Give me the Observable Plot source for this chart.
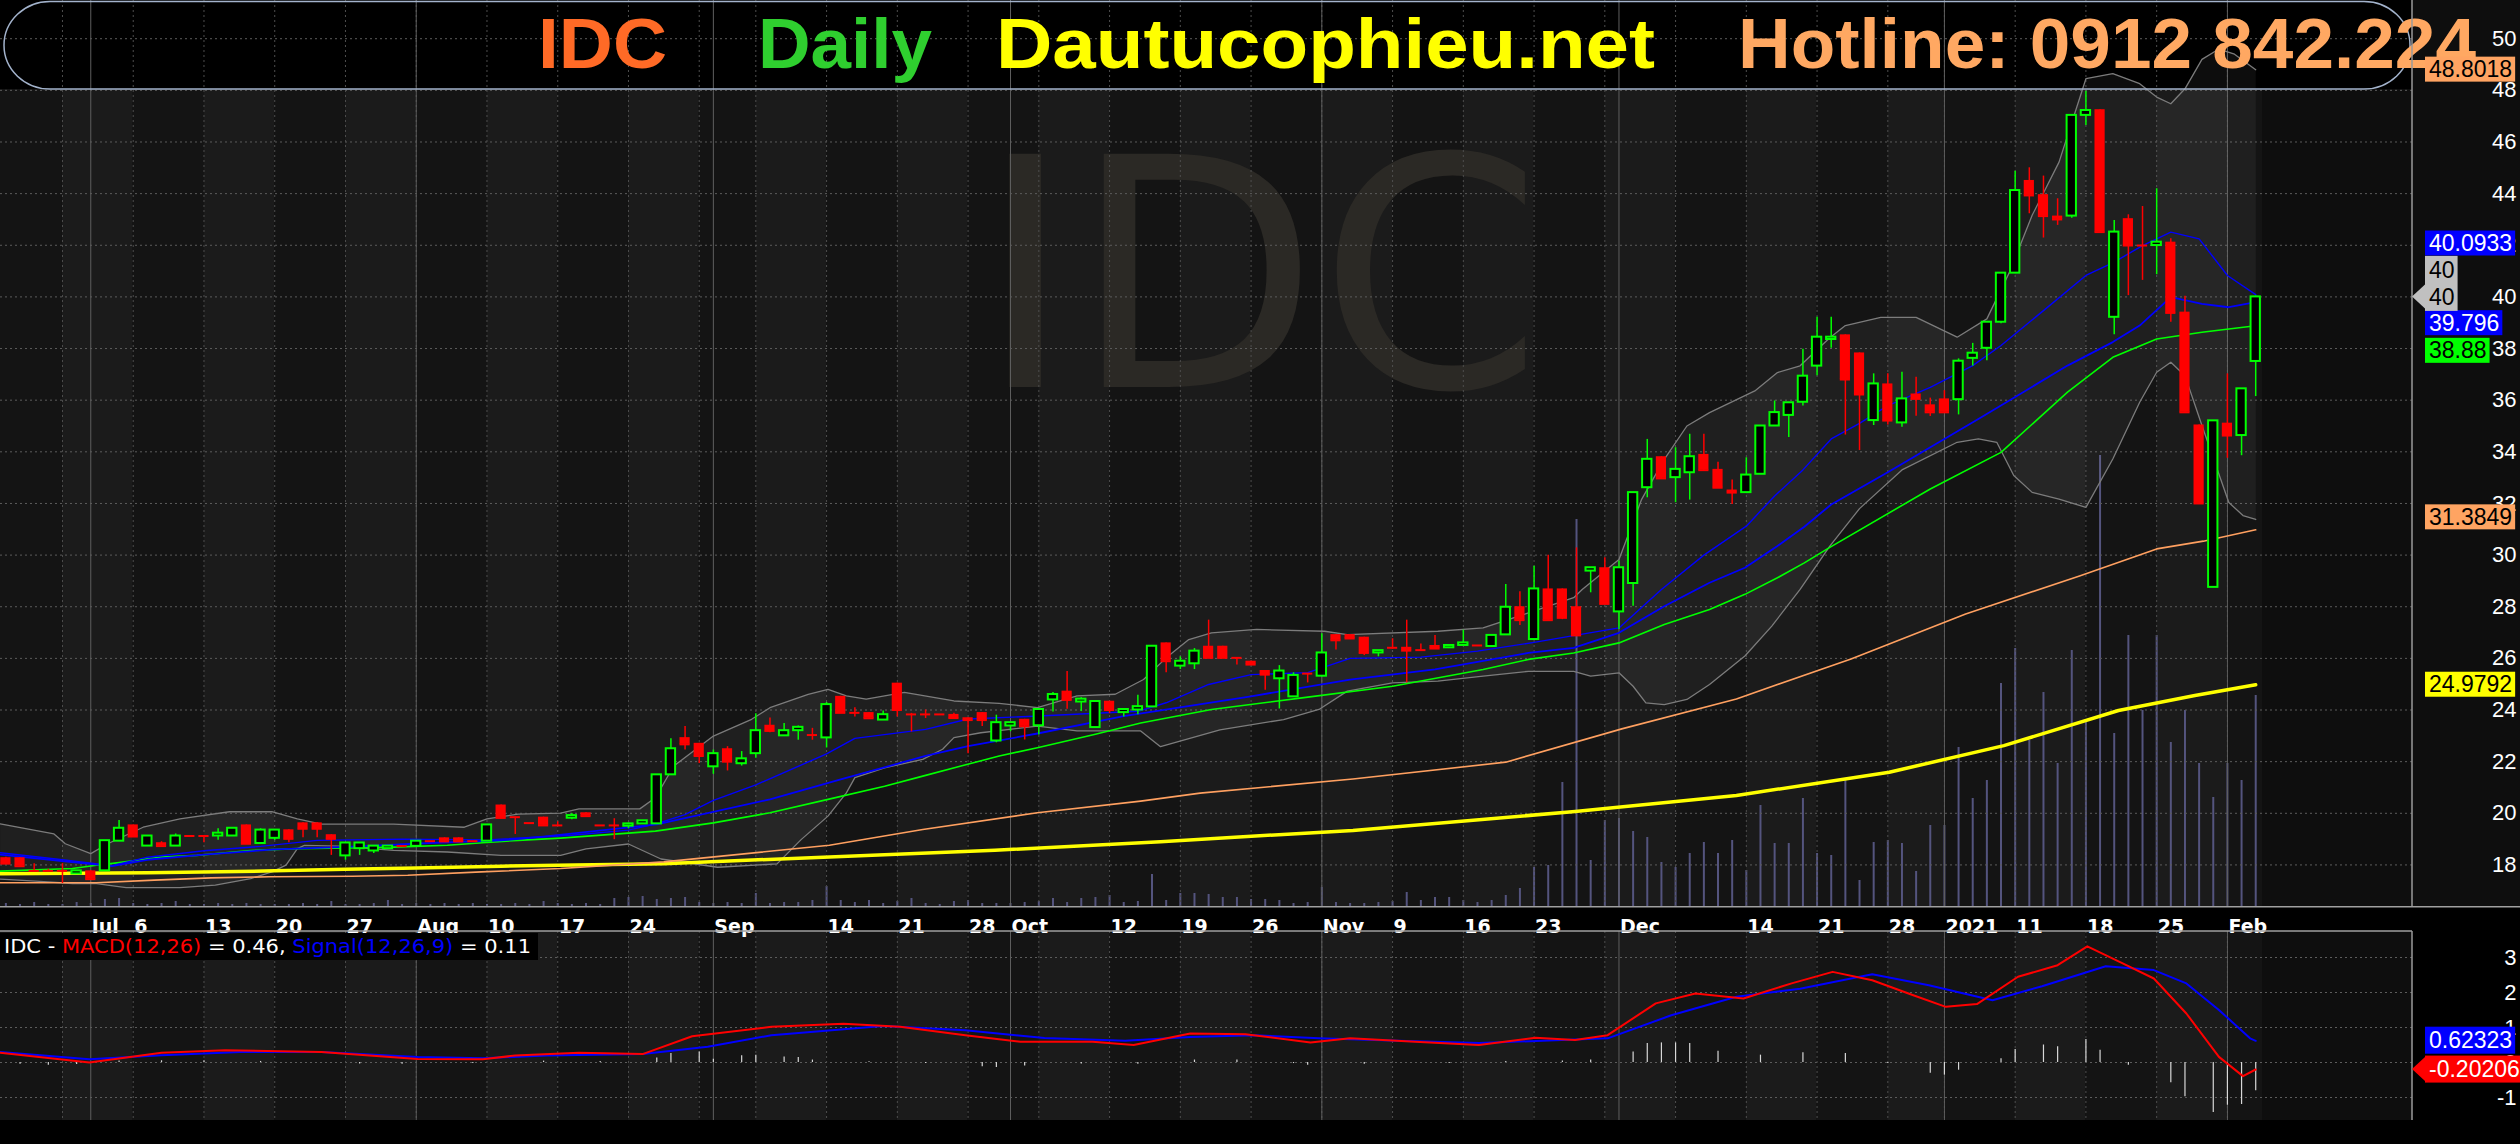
<!DOCTYPE html>
<html><head><meta charset="utf-8">
<script src="https://cdn.jsdelivr.net/npm/d3@7"></script>
<script src="https://cdn.jsdelivr.net/npm/@observablehq/plot@0.6"></script>
<style>
html,body{margin:0;padding:0;background:#000;}
#wrap{position:relative;width:2520px;height:1144px;background:#000;overflow:hidden;}
#wrap svg{position:absolute;left:0;}
</style></head><body><div id="wrap"></div>
<script>
// ---------- DATA (trading-day index 0 = 23 Jun 2020 ... 159 = 3 Feb 2021) ----------
const open = [18.28,18.28,17.77,17.77,17.77,17.65,17.77,17.77,18.92,19.55,
18.73,18.86,18.73,19.12,19.12,19.12,19.12,19.55,18.83,19.03,
19.36,19.63,19.63,19.17,18.35,18.63,18.54,18.63,18.73,18.72,
18.92,19.05,19.05,18.92,18.92,20.32,19.85,19.62,19.85,19.53,
19.81,20.02,19.53,19.53,19.50,19.59,19.59,21.49,22.93,22.71,
21.80,22.50,21.92,22.31,23.41,23.00,23.20,23.03,22.92,24.53,
23.89,23.90,23.61,25.04,23.83,23.83,23.83,23.83,23.70,23.90,
22.80,23.38,23.64,23.39,24.39,24.73,24.31,23.32,24.34,23.90,
24.00,24.12,26.60,25.70,25.79,26.47,26.47,26.02,25.89,25.53,
25.21,24.51,25.41,25.31,26.92,26.92,26.82,26.21,26.41,26.43,
26.32,26.50,26.41,26.50,26.50,26.46,26.91,28.00,26.73,28.69,
28.69,28.00,29.38,29.51,27.80,28.90,32.61,33.81,33.00,33.19,
33.90,33.32,32.52,32.42,33.13,35.00,35.41,35.92,37.32,38.35,
38.53,37.83,35.21,36.63,35.12,36.24,35.82,36.05,36.02,37.62,
38.01,39.02,40.92,44.51,43.96,43.13,43.13,47.03,47.25,39.21,
43.03,41.99,41.99,42.12,39.41,35.04,28.75,35.11,34.63,37.50];
const high = [18.30,18.28,18.05,17.83,18.05,17.77,17.77,18.94,19.72,19.55,
19.12,18.90,19.20,19.12,19.12,19.40,19.42,19.55,19.40,19.35,
19.36,19.63,19.63,19.17,18.85,18.85,18.73,18.73,18.73,18.92,
18.92,19.05,19.05,18.92,19.55,20.32,19.85,19.62,19.85,19.67,
19.99,20.02,19.53,19.79,19.62,19.71,21.49,22.89,23.36,22.71,
22.45,22.58,22.39,23.86,23.69,23.48,23.38,23.29,24.29,24.53,
24.09,23.90,23.96,25.04,23.87,24.00,23.83,23.87,23.70,23.90,
23.80,23.51,23.64,24.02,24.68,25.49,24.48,24.33,24.34,24.02,
24.57,26.47,26.60,26.06,26.38,27.48,26.47,26.02,25.89,25.53,
25.72,25.44,25.41,26.95,26.92,26.92,26.82,26.30,26.76,27.48,
26.56,26.89,26.50,27.09,26.50,26.89,28.86,28.58,29.57,29.99,
28.69,30.28,29.51,29.90,29.77,32.42,34.48,33.81,34.16,34.68,
34.68,33.60,32.91,33.77,35.00,35.97,35.90,37.97,39.21,39.21,
38.53,37.83,37.02,37.02,37.08,36.89,36.08,36.37,37.60,38.20,
39.02,40.92,44.87,45.00,44.68,43.80,47.03,47.97,47.25,42.96,
43.18,43.50,44.19,42.25,40.03,35.04,35.20,37.02,36.44,40.03];
const low = [18.05,17.95,17.77,17.77,17.28,17.65,17.45,17.77,18.92,19.10,
18.73,18.73,18.73,19.12,18.86,18.96,19.12,18.82,18.83,18.95,
18.86,19.05,19.05,18.37,18.18,18.37,18.44,18.63,18.73,18.72,
18.92,18.91,18.91,18.92,18.92,19.82,19.18,19.62,19.53,19.53,
19.75,19.89,19.53,18.98,19.40,19.59,19.59,21.49,22.45,21.93,
21.51,21.64,21.83,22.13,23.12,23.00,22.83,22.83,22.53,23.89,
23.73,23.68,23.61,23.73,23.15,23.67,23.83,23.69,22.31,23.36,
22.73,23.16,22.84,23.03,23.92,24.03,23.94,23.32,23.86,23.73,
23.82,24.12,25.44,25.57,25.57,26.02,26.02,25.74,25.76,24.77,
24.04,24.51,25.05,25.31,26.32,26.77,26.11,26.06,26.35,25.05,
26.32,26.38,26.41,26.50,26.50,26.46,26.91,27.27,26.73,27.48,
27.50,26.89,28.54,28.11,27.12,28.02,32.22,32.97,32.03,32.13,
33.29,32.61,31.96,32.42,33.13,35.00,34.55,35.77,36.95,38.01,
34.65,34.05,35.02,35.04,34.95,35.38,35.37,35.53,35.43,37.32,
37.53,38.96,40.92,43.22,42.28,42.77,43.05,46.64,42.51,38.53,
40.05,40.64,40.86,39.02,35.53,32.00,28.75,33.75,33.85,36.14];
const close = [18.05,17.95,17.77,17.77,17.77,17.77,17.45,18.94,19.42,19.10,
19.12,18.73,19.12,19.12,19.12,19.23,19.42,18.82,19.35,19.35,
19.01,19.40,19.40,19.01,18.85,18.85,18.73,18.73,18.73,18.92,
18.92,18.91,18.91,18.92,19.55,19.82,19.85,19.62,19.53,19.53,
19.91,19.89,19.53,19.53,19.59,19.71,21.49,22.50,22.67,22.22,
22.31,22.00,22.11,23.20,23.19,23.20,23.33,23.03,24.21,23.89,
23.89,23.68,23.82,24.00,23.83,23.83,23.83,23.69,23.61,23.61,
23.51,23.51,23.37,24.02,24.60,24.39,24.42,24.33,24.00,24.02,
24.13,26.47,25.89,25.89,26.28,26.02,26.02,26.02,25.76,25.37,
25.51,25.34,25.41,26.21,26.70,26.77,26.21,26.30,26.41,26.30,
26.32,26.38,26.50,26.60,26.50,26.89,27.98,27.48,28.69,27.48,
27.57,26.89,29.51,28.11,29.51,32.42,33.71,32.97,33.32,33.81,
33.29,32.61,32.42,33.10,35.00,35.52,35.90,36.93,38.44,38.44,
36.80,36.22,36.63,35.21,36.05,36.05,35.53,35.53,37.51,37.82,
39.02,40.92,44.12,43.93,43.13,43.00,47.03,47.22,42.51,42.51,
41.99,41.99,42.12,39.38,35.53,32.00,35.20,34.63,36.44,40.00];
// volume, millions of shares
const volume = [0.03,0.02,0.04,0.02,0.02,0.04,0.03,0.07,0.08,0.03,
0.02,0.03,0.05,0.02,0.02,0.03,0.02,0.03,0.02,0.02,
0.02,0.03,0.02,0.05,0.02,0.02,0.03,0.06,0.02,0.03,
0.02,0.03,0.02,0.03,0.02,0.02,0.03,0.02,0.05,0.03,
0.02,0.03,0.02,0.08,0.09,0.10,0.07,0.08,0.09,0.04,
0.03,0.04,0.03,0.13,0.03,0.04,0.04,0.06,0.20,0.06,
0.04,0.06,0.03,0.05,0.08,0.03,0.02,0.05,0.06,0.03,
0.03,0.03,0.04,0.05,0.08,0.04,0.08,0.09,0.11,0.04,
0.05,0.32,0.06,0.13,0.13,0.12,0.09,0.09,0.07,0.07,
0.06,0.03,0.04,0.19,0.04,0.03,0.03,0.04,0.05,0.14,
0.06,0.09,0.09,0.06,0.04,0.06,0.11,0.18,0.39,0.41,
1.24,3.87,0.46,0.86,0.88,0.75,0.69,0.44,0.39,0.53,
0.64,0.53,0.66,0.36,1.01,0.63,0.63,1.08,0.53,0.51,
1.28,0.26,0.64,0.66,0.63,0.35,0.81,0.81,1.59,1.08,
1.26,2.23,2.58,1.66,2.14,1.43,2.56,1.84,4.51,1.73,
2.71,1.96,2.71,1.64,1.96,1.43,1.09,1.43,1.26,2.11];

// indicator lines: [trading-day index, value]
const ma200 = [[-0.4,17.66],[10,17.7],[19,17.77],[24,17.83],[29,17.88],[35,17.95],[39,17.99],[46.5,18.05],[58.2,18.31],[69.9,18.57],[81.6,18.9],[91.5,19.22],[95.2,19.33],[110.9,20.07],[122.3,20.69],[133.1,21.59],[141.2,22.62],[149.3,23.98],[154.7,24.56],[159,24.98]];
const ma100 = [[-0.4,17.31],[6.4,17.31],[10.5,17.41],[14.5,17.5],[18.6,17.54],[24.5,17.56],[28.4,17.6],[33.6,17.73],[39.2,17.86],[46.5,18.12],[58.2,18.76],[64.8,19.37],[72.9,20.02],[80.2,20.47],[84.4,20.78],[95.2,21.33],[106,21.98],[114.2,23.27],[122.3,24.43],[130.4,25.98],[138.5,27.72],[146.6,29.2],[152,30.24],[155.3,30.54],[159,30.98]];
const ma20 = [[-0.4,18.47],[4,18.2],[7.5,17.97],[10,18.3],[14,18.55],[18,18.72],[22,18.95],[28,19.0],[34,18.97],[40,19.15],[44,19.35],[46,19.6],[48,19.95],[50,20.5],[53,21.1],[58,22.3],[60,22.9],[65,23.25],[68,23.65],[73,23.77],[80,23.95],[82,24.28],[85,24.99],[88,25.37],[92,25.45],[95,26.0],[100,26.05],[104,26.28],[108,26.62],[111,26.9],[114,27.18],[117,28.67],[120,30.0],[123,31.12],[125,32.29],[127,33.3],[129,34.5],[131,35.1],[133,35.79],[136,36.5],[139,37.34],[141,38.12],[144,39.47],[147,40.83],[149,41.35],[151,41.99],[153,42.51],[155,42.25],[157,40.83],[159,40.09]];
const maMid = [[-0.4,18.4],[4,18.15],[7.5,17.95],[10,18.2],[14,18.4],[19,18.6],[25,18.72],[30,18.85],[35,18.95],[38,19.1],[46,19.57],[54,20.54],[59,21.31],[65,22.22],[68,22.6],[73,23.1],[79,23.76],[88,24.53],[95,25.18],[101,25.57],[107.6,26.21],[110.8,26.41],[114,26.99],[117.2,28.02],[120.4,28.93],[122.9,29.51],[125.2,30.35],[127.1,31.1],[129,31.96],[133,33.21],[139.4,35.27],[145.7,37.34],[148.9,38.25],[150.8,38.89],[153,39.99],[155.2,39.73],[157.1,39.6],[159,39.8]];
const ma50 = [[-0.4,17.76],[4.7,17.86],[6.4,17.99],[8,18.09],[11,18.31],[13.5,18.37],[17.3,18.56],[20.6,18.63],[23.1,18.65],[27.4,18.69],[31.2,18.76],[33.7,18.86],[36.2,18.95],[39.2,19.04],[45.9,19.31],[50,19.63],[54,20.02],[58.1,20.54],[62.1,21.05],[64.8,21.44],[67.5,21.83],[70.2,22.22],[72.9,22.54],[77,23.06],[80.2,23.5],[85.2,24.02],[91.6,24.47],[98,24.92],[104.4,25.57],[107.6,25.96],[110.8,26.21],[114,26.6],[117.2,27.31],[120.4,27.89],[122.9,28.48],[125.2,29.12],[127.1,29.7],[128.9,30.3],[136,32.56],[141,33.98],[145.7,36.31],[148.9,37.66],[152,38.37],[155.2,38.63],[159,38.88]];
const bbUpper = [[-0.4,19.59],[3.4,19.2],[4.2,18.82],[6,18.44],[7.2,18.82],[9.7,19.46],[12.3,19.78],[15.8,20.06],[18.8,20.06],[20.6,19.78],[22.3,19.58],[27.4,19.58],[32.4,19.46],[34,19.78],[36.2,19.97],[39.2,20.01],[40.5,20.17],[44.8,20.17],[45.9,20.6],[47.2,21.83],[50,22.99],[52.7,23.64],[54,24.09],[56.7,24.61],[58.1,24.8],[59.4,24.55],[60.8,24.42],[63.5,24.68],[67,24.35],[70.2,24.26],[72.9,24.09],[75.7,24.55],[78.4,24.61],[80.4,25.18],[82,26.02],[83.6,26.73],[85.2,26.99],[88.4,27.12],[93.2,27.05],[94.8,26.92],[101.2,27.05],[104.4,27.18],[107.6,27.76],[110.8,28.35],[111.4,28.67],[114,29.83],[115.6,32.16],[117.2,33.71],[118.8,35.0],[120.4,35.52],[123.6,36.36],[125.2,37.07],[126.8,37.33],[128.9,38.42],[130,38.89],[132.5,39.21],[135,39.21],[137.9,38.44],[140,39.15],[141.6,40.96],[143.2,43.16],[145.1,45.22],[147,48.45],[148.9,48.65],[150.8,48.26],[152,47.74],[153,47.48],[154,48.06],[155.2,49.2],[156.4,49.6],[157.5,49.4],[159,48.8]];
const bbLower = [[-0.4,17.45],[2.1,17.37],[4.7,17.28],[6.4,17.28],[8.5,17.12],[12.3,17.12],[14.8,17.22],[17.3,17.47],[18.8,17.73],[19.8,17.99],[20.6,18.63],[21.1,18.76],[23.6,18.73],[27.4,18.56],[31.2,18.5],[35,18.37],[39.2,18.37],[41,18.62],[44,18.81],[46.3,18.23],[50.3,17.91],[54.5,18.04],[56.2,18.98],[58.1,19.89],[59.4,20.79],[60,21.38],[62.1,21.76],[64.8,22.09],[66.2,22.48],[67,22.93],[68.9,23.12],[72.9,23.38],[75.7,23.19],[80.2,23.19],[81.6,22.58],[85.8,23.23],[90.3,23.63],[92.8,24.02],[94.8,24.73],[98,25.05],[101.2,25.12],[104.4,25.31],[107.6,25.5],[110.8,25.5],[112,25.31],[114,25.44],[115,24.92],[115.9,24.28],[117.2,24.21],[118.8,24.41],[120.4,24.99],[122.9,26.09],[124.8,27.25],[126.8,28.67],[128.9,30.35],[131,31.8],[134,33.3],[137.9,34.37],[139.4,34.5],[140.7,34.37],[141.9,33.08],[143.2,32.43],[145.1,32.17],[147,31.85],[148.9,33.72],[150.8,35.92],[152,37.08],[153,37.47],[154,36.95],[155.2,35.02],[157.1,32.04],[158.1,31.53],[159,31.38]];
const macd = [[-0.4,0.28],[5.9,0.0],[11,0.28],[15.5,0.35],[22.3,0.3],[29.1,0.1],[33.7,0.09],[36,0.2],[40.5,0.28],[45,0.24],[48.5,0.75],[54.1,1.02],[59.2,1.11],[63.2,1.02],[67.8,0.78],[71.7,0.59],[76.8,0.59],[79.7,0.5],[83.7,0.83],[87.6,0.81],[92.2,0.57],[95,0.69],[99.6,0.59],[104.1,0.5],[108.1,0.71],[110.9,0.64],[113.2,0.78],[116.6,1.69],[119.4,1.97],[122.8,1.83],[126.2,2.26],[129.1,2.59],[131.9,2.35],[134.8,1.92],[137.1,1.59],[139.3,1.67],[142.2,2.45],[145,2.78],[147.1,3.32],[149.6,2.83],[151.8,2.4],[154.1,1.4],[156.4,0.16],[158.1,-0.39],[159,-0.2]];
const signal = [[-0.4,0.3],[5.9,0.09],[11,0.21],[16.6,0.3],[22.3,0.3],[29.1,0.16],[33.7,0.12],[38.2,0.2],[45,0.24],[49.6,0.45],[54.1,0.78],[62,1.04],[67.8,0.92],[73.4,0.7],[79.1,0.62],[83.7,0.73],[88.2,0.78],[92.8,0.69],[98.4,0.62],[104.1,0.56],[108.6,0.62],[113.2,0.69],[117.7,1.35],[122.3,1.88],[126.8,2.11],[131.9,2.52],[135.9,2.21],[140.4,1.78],[143.9,2.18],[148.4,2.75],[151.8,2.64],[154.1,2.26],[156.4,1.5],[158.6,0.69],[159,0.62]];
const histo = [[1,-0.05],[3,-0.08],[5,-0.06],[8,0.04],[11,0.05],[14,0.05],[18,0.03],[25,-0.04],[28,-0.05],[33,-0.03],[38,0.04],[42,0.03],[46,0.13],[47,0.26],[49,0.3],[50,0.09],[52,0.19],[53,0.21],[55,0.16],[56,0.14],[57,0.07],[61,0.02],[65,-0.03],[69,-0.12],[70,-0.14],[72,-0.1],[76,-0.04],[80,-0.05],[84,0.07],[87,0.07],[91,-0.03],[92,-0.08],[96,-0.05],[102,-0.03],[106,0.03],[110,0.04],[112,0.07],[115,0.3],[116,0.54],[117,0.56],[118,0.56],[119,0.54],[121,0.32],[124,0.21],[127,0.28],[130,0.26],[133,-0.03],[136,-0.31],[137,-0.36],[138,-0.22],[141,0.11],[142,0.37],[144,0.5],[145,0.45],[147,0.66],[148,0.35],[150,-0.08],[153,-0.58],[154,-0.98],[156,-1.43],[157,-1.22],[158,-1.2],[159,-0.81]];

// axis data
const tickIdx = [6,9,14,19,24,29,34,39,44,50,58,63,68,71,78,83,88,93,98,103,108,114,123,128,133,137,142,147,152,157];
const tickLabels = ["Jul","6","13","20","27","Aug","10","17","24","Sep","14","21","28","Oct","12","19","26","Nov","9","16","23","Dec","14","21","28","2021","11","18","25","Feb"];
const mondayIdx = [4,9,14,19,24,29,34,39,44,49,53,58,63,68,73,78,83,88,93,98,103,108,113,118,123,128,133,137,142,147,152,157];
const monthIdx = [6,29,50,71,93,114,137,157];
const priceTicks = [18,20,22,24,26,28,30,32,34,36,38,40,42,44,46,48,50];
const macdTicks = [3,2,1,0,-1];
const lastIdx = 159;

// value tags
const priceTags = [
  {v:48.8018, label:"48.8018", bg:"#ffa462", fg:"#000"},
  {v:40.0933, label:"40.0933", bg:"#0000ff", fg:"#fff"},
  {v:39.796,  label:"39.796",  bg:"#0000ff", fg:"#fff"},
  {v:38.88,   label:"38.88",   bg:"#00ff00", fg:"#000"},
  {v:31.3849, label:"31.3849", bg:"#ffa462", fg:"#000"},
  {v:24.9792, label:"24.9792", bg:"#ffff00", fg:"#000"}
];
const lastClose = 40;
const macdTags = [
  {v:0.62323, label:"0.62323", bg:"#0000ff", fg:"#fff"},
  {v:-0.20206, label:"-0.20206", bg:"#ff0000", fg:"#fff"}
];
const legendParts = [["IDC - ", "#fff"], ["MACD(12,26)", "#ff0000"], [" = 0.46, ", "#fff"], ["Signal(12,26,9)", "#0000ff"], [" = 0.11", "#fff"]];

// ---------- LAYOUT ----------
const W = 2520, MAIN_H = 906, RIGHT = 108, MACD_H = 238;
const X_DOMAIN = [-0.38, 170.08];
const FONT = "Liberation Sans, Arial, Helvetica, sans-serif";
const wrap = document.getElementById("wrap");

const candles = close.map((c, i) => ({i, o: open[i], h: high[i], l: low[i], c, up: c > open[i]}));
const volData = volume.map((v, i) => ({i, v}));
const bounds = [X_DOMAIN[0], ...mondayIdx, lastIdx + 0.5];
const stripes = d3.range(bounds.length - 1).map(k => ({a: bounds[k], b: bounds[k+1], light: k % 2 === 1}));
const bbPoly = [...bbUpper, ...bbLower.slice().reverse()];
const px = d => d[0], py = d => d[1];

// background + volume layer
const volPlot = Plot.plot({
  width: W, height: MAIN_H, marginLeft: 0, marginRight: RIGHT, marginTop: 0, marginBottom: 0,
  style: {background: "#0e0e0e"},
  x: {domain: X_DOMAIN, axis: null},
  y: {domain: [0, 9.06], axis: null},
  marks: [
    Plot.rect(stripes, {x1: "a", x2: "b", fill: d => d.light ? "#1b1b1b" : "#141414"}),
    Plot.ruleX(volData, {x: "i", y1: 0, y2: "v", stroke: "#54547e", strokeWidth: 2})
  ]
});
volPlot.style.top = "0px";
wrap.appendChild(volPlot);

// price layer
const pricePlot = Plot.plot({
  width: W, height: MAIN_H, marginLeft: 0, marginRight: RIGHT, marginTop: 0, marginBottom: 0,
  style: {background: "transparent", overflow: "visible"},
  x: {domain: X_DOMAIN, axis: null},
  y: {domain: [16.39, 51.48], axis: null},
  marks: [
    Plot.ruleY(priceTicks, {stroke: "#5c5c5c", strokeDasharray: "2,3", strokeWidth: 1}),
    Plot.ruleX(mondayIdx, {stroke: "#4e4e4e", strokeDasharray: "2,3", strokeWidth: 1}),
    Plot.ruleX(monthIdx, {stroke: "#5f5f5f", strokeWidth: 1}),
    Plot.line(bbPoly, {x: px, y: py, fill: "#ffffff", fillOpacity: 0.05, stroke: "none"}),
    Plot.line(bbUpper, {x: px, y: py, stroke: "#7c7c7c", strokeWidth: 1.3}),
    Plot.line(bbLower, {x: px, y: py, stroke: "#7c7c7c", strokeWidth: 1.3}),
    Plot.line(ma200, {x: px, y: py, stroke: "#ffff00", strokeWidth: 3.5}),
    Plot.line(ma100, {x: px, y: py, stroke: "#ffa060", strokeWidth: 1.6}),
    Plot.line(ma50, {x: px, y: py, stroke: "#00ff00", strokeWidth: 1.6}),
    Plot.line(maMid, {x: px, y: py, stroke: "#0000ff", strokeWidth: 1.8}),
    Plot.line(ma20, {x: px, y: py, stroke: "#0000ff", strokeWidth: 1.4}),
    Plot.ruleX(candles, {x: "i", y1: "l", y2: "h", stroke: d => d.up ? "#00ff00" : "#ff0000", strokeWidth: 1.5}),
    Plot.rect(candles.filter(d => !d.up), {x1: d => d.i - 0.36, x2: d => d.i + 0.36, y1: "o", y2: "c", fill: "#ff0000"}),
    Plot.rect(candles.filter(d => d.up), {x1: d => d.i - 0.33, x2: d => d.i + 0.33, y1: "o", y2: "c", fill: "#000", stroke: "#00ff00", strokeWidth: 2}),
    Plot.ruleY(candles.filter(d => !d.up), {y: "c", x1: d => d.i - 0.36, x2: d => d.i + 0.36, stroke: "#ff0000", strokeWidth: 2}),
    Plot.text(priceTicks, {y: d => d, text: d => String(d), frameAnchor: "right", dx: 104, textAnchor: "end", fill: "#fff", fontSize: 22, fontFamily: FONT})
  ]
});
pricePlot.style.top = "0px";
wrap.appendChild(pricePlot);

// MACD layer (with date strip in its top margin)
const macdPlot = Plot.plot({
  width: W, height: MACD_H, marginLeft: 0, marginRight: RIGHT, marginTop: 25, marginBottom: 24,
  style: {background: "#000", overflow: "visible"},
  x: {domain: X_DOMAIN, axis: null},
  y: {domain: [-1.657, 3.743], axis: null},
  marks: [
    Plot.rect([{a: X_DOMAIN[0], b: 170.08}], {x1: "a", x2: "b", fill: "#0e0e0e"}),
    Plot.rect(stripes, {x1: "a", x2: "b", fill: d => d.light ? "#1b1b1b" : "#141414"}),
    Plot.ruleY(macdTicks, {stroke: "#5c5c5c", strokeDasharray: "2,3", strokeWidth: 1}),
    Plot.ruleX(mondayIdx, {stroke: "#4e4e4e", strokeDasharray: "2,3", strokeWidth: 1}),
    Plot.ruleX(monthIdx, {stroke: "#5f5f5f", strokeWidth: 1}),
    Plot.ruleX(histo, {x: px, y1: 0, y2: py, stroke: "#d8d8d8", strokeWidth: 1.2}),
    Plot.line(signal, {x: px, y: py, stroke: "#0000ff", strokeWidth: 2}),
    Plot.line(macd, {x: px, y: py, stroke: "#ff0000", strokeWidth: 2}),
    Plot.text(tickIdx, {x: d => d, text: (d, k) => tickLabels[k], frameAnchor: "top", dy: -12, dx: 1, textAnchor: "start", fill: "#fff", fontSize: 19, fontWeight: "bold", fontFamily: "DejaVu Sans, sans-serif"}),
    Plot.text(macdTicks, {y: d => d, text: d => String(d), frameAnchor: "right", dx: 104, textAnchor: "end", fill: "#fff", fontSize: 22, fontFamily: FONT})
  ]
});
macdPlot.style.top = MAIN_H + "px";
wrap.appendChild(macdPlot);

// ---------- DECORATIONS ----------
const NS = d3.select(volPlot);
const xs = volPlot.scale("x");
const xF = d3.scaleLinear(xs.domain, xs.range);
const frameRight = xF(X_DOMAIN[1]);
// watermark
NS.append("text").attr("text-anchor", "start").attr("x", 978).attr("y", 387).attr("font-family", "DejaVu Sans, sans-serif")
  .attr("font-size", 320).attr("fill", "#2b2925").text("IDC");
// title band
NS.append("rect").attr("x", 0).attr("y", 0).attr("width", frameRight).attr("height", 89).attr("fill", "#000");

const P = d3.select(pricePlot);
const ys = pricePlot.scale("y");
const yF = d3.scaleLinear(ys.domain, ys.range);
const title = P.append("g").attr("text-anchor", "start");
title.append("rect").attr("x", 4).attr("y", 1.5).attr("width", frameRight - 6).attr("height", 87.5).attr("rx", 46).attr("ry", 44)
  .attr("fill", "none").attr("stroke", "#a3b3cc").attr("stroke-width", 1.5);
const titles = [
  {t: "IDC", x: 538, w: 129, c: "#ff6a26"},
  {t: "Daily", x: 758, w: 174, c: "#2fcf2f"},
  {t: "Dautucophieu.net", x: 996, w: 659, c: "#ffff00"},
  {t: "Hotline: 0912 842.224", x: 1738, w: 738, c: "#ffa862"}
];
titles.forEach(d => title.append("text").attr("text-anchor", "start").attr("x", d.x).attr("y", 68).attr("font-family", FONT).attr("font-weight", "bold")
  .attr("font-size", 71).attr("fill", d.c).attr("textLength", d.w).attr("lengthAdjust", "spacingAndGlyphs").text(d.t));

// frame borders
P.append("line").attr("x1", frameRight).attr("x2", frameRight).attr("y1", 0).attr("y2", MAIN_H).attr("stroke", "#9a9a9a").attr("stroke-width", 1.5);

function addTag(sel, yc, lines, bg, fg, arrowY, lh) {
  const g = sel.append("g").attr("text-anchor", "start");
  const x0 = frameRight + 13;
  const h = lh * lines.length;
  const top = yc - h / 2;
  const rect = g.append("rect");
  const ts = lines.map((s, k) => g.append("text").attr("text-anchor", "start").attr("x", x0 + 4).attr("y", top + lh * k + lh / 2 + 8)
    .attr("font-family", FONT).attr("font-size", 23).attr("fill", fg).text(s));
  const w = d3.max(ts, t => t.node().getComputedTextLength()) + 7;
  rect.attr("x", x0).attr("y", top).attr("width", w).attr("height", h).attr("fill", bg);
  if (arrowY != null) g.append("path").attr("d", `M${frameRight},${arrowY}L${x0},${arrowY - 12}L${x0},${arrowY + 12}Z`).attr("fill", bg);
}
// collision offsets (pixels) for stacked tags
const tagShift = {"40.0933": -51, "39.796": 21, "38.88": 25, "31.3849": -2};
priceTags.forEach(d => addTag(P, yF(d.v) + (tagShift[d.label] || 0), [d.label], d.bg, d.fg, null, 25));
addTag(P, yF(lastClose) - 13, [String(lastClose), String(lastClose)], "#c0c0c0", "#000", yF(lastClose), 27.5);

// MACD decorations
const M = d3.select(macdPlot);
const ms = macdPlot.scale("y");
const mF = d3.scaleLinear(ms.domain, ms.range);
M.append("line").attr("x1", 0).attr("x2", W).attr("y1", 0.75).attr("y2", 0.75).attr("stroke", "#a0a0a0").attr("stroke-width", 1.5);
M.append("line").attr("x1", 0).attr("x2", frameRight).attr("y1", 25).attr("y2", 25).attr("stroke", "#a0a0a0").attr("stroke-width", 1.5);
M.append("line").attr("x1", frameRight).attr("x2", frameRight).attr("y1", 25).attr("y2", 214).attr("stroke", "#9a9a9a").attr("stroke-width", 1.5);
M.append("rect").attr("x", 0).attr("y", 27).attr("width", 538).attr("height", 27).attr("fill", "#000");
const leg = M.append("text").attr("text-anchor", "start").attr("x", 4).attr("y", 47).attr("font-family", "DejaVu Sans, sans-serif")
  .attr("font-size", 20).attr("fill", "#fff").attr("textLength", 527).attr("lengthAdjust", "spacingAndGlyphs");
legendParts.forEach(([s, c]) => leg.append("tspan").attr("fill", c).text(s));
addTag(M, mF(macdTags[0].v), [macdTags[0].label], macdTags[0].bg, macdTags[0].fg, null, 27);
addTag(M, mF(macdTags[1].v), [macdTags[1].label], macdTags[1].bg, macdTags[1].fg, mF(macdTags[1].v), 27);
</script></body></html>
